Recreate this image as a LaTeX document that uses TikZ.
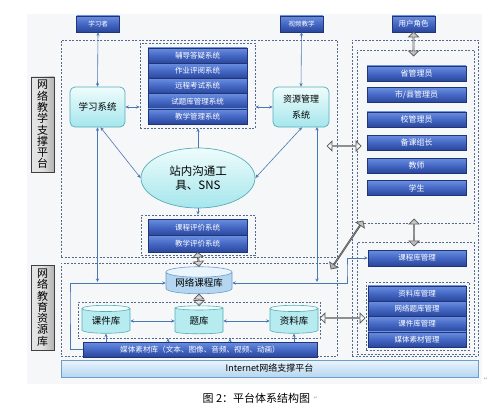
\documentclass[tikz,border=0pt]{standalone}
\usepackage{fontspec}
\newfontfamily\cjk{Noto Sans CJK SC}
\newfontfamily\djv{DejaVu Sans}
\usetikzlibrary{shapes.geometric,shapes.arrows,arrows.meta,calc,fit}
\definecolor{bgc}{HTML}{F6F7F9}
\definecolor{blueT}{HTML}{6A8FE0}
\definecolor{blueM}{HTML}{4467C4}
\definecolor{blueB}{HTML}{2A469A}
\definecolor{blueL}{HTML}{1F3578}
\definecolor{cyanT}{HTML}{EFFCFC}
\definecolor{cyanB}{HTML}{A4E6EC}
\definecolor{cyanL}{HTML}{55AEB8}
\definecolor{lbT}{HTML}{EAF4FC}
\definecolor{lbB}{HTML}{B5D6F0}
\definecolor{lbL}{HTML}{6F9CC8}
\definecolor{dashc}{HTML}{55698A}
\definecolor{arrc}{HTML}{4A78B2}
\newcommand\fatarr[3]{\path let \p1=($(#2)-(#1)$), \n1={atan2(\y1,\x1)}, \n2={veclen(\x1,\y1)} in node[fatarrow, minimum height=\n2, rotate=\n1] (#3) at ($(#1)!0.5!(#2)$) {};}
\begin{document}
\begin{tikzpicture}[x=1pt,y=-1pt,font=\cjk,
  bluebox/.style={draw=blueL, line width=0.5pt, top color=blueT, bottom color=blueB, middle color=blueM, text=white, inner sep=0pt, font=\cjk\fontsize{7.5}{8}\selectfont},
  tagbox/.style={bluebox, minimum width=43pt, minimum height=16pt, font=\cjk\fontsize{6.5}{7}\selectfont},
  sysbox/.style={bluebox, minimum width=99pt, minimum height=15.2pt},
  rolebox/.style={bluebox, minimum width=99pt, minimum height=15pt, font=\cjk\fontsize{8}{9}\selectfont},
  cyanbox/.style={draw=cyanL, line width=0.7pt, rounded corners=5pt, top color=cyanT, bottom color=cyanB, inner sep=0pt, align=center},
  dashbox/.style={draw=dashc, line width=0.75pt, dash pattern=on 2pt off 1.5pt, inner sep=0pt},
  graylabel/.style={draw=black!75, line width=0.7pt, left color=gray!20, right color=gray!60, middle color=gray!25, inner sep=0pt, minimum width=23pt, align=center, font=\cjk\fontsize{11}{11.3}\selectfont},
  dbase/.style={cylinder, shape border rotate=90, aspect=0.22, draw=cyanL, line width=0.6pt, cylinder uses custom fill, cylinder body fill=cyanB!80, cylinder end fill=cyanT, minimum width=48pt, minimum height=28pt, inner sep=0pt, font=\cjk\fontsize{9.5}{10}\selectfont},
  both/.style={draw=arrc, line width=0.6pt, {Stealth[length=3.5pt,width=3.2pt]}-{Stealth[length=3.5pt,width=3.2pt]}},
  one/.style={draw=arrc, line width=0.6pt, -{Stealth[length=3.5pt,width=3.2pt]}},
  fatarrow/.style={double arrow, draw=black!65, line width=0.7pt, top color=gray!55, bottom color=gray!70, middle color=white, minimum width=10pt, double arrow head extend=2.5pt, inner sep=0pt}]
\useasboundingbox (0,0) rectangle (500,417);
\fill[bgc] (27,14) rectangle (482,384);

% dashed frames
\node[dashbox, fit={(61,40) (337,257)}] (topdash) {};
\node[dashbox, fit={(140,43) (255,128)}] (sysdash) {};
\node[dashbox, fit={(141,215) (255,255)}] (evaldash) {};
\node[dashbox, fit={(61,263) (337,356)}] (botdash) {};
\node[dashbox, fit={(78,302) (320,338)}] (libdash) {};
\node[dashbox, fit={(352,40) (478,356)}] (rightdash) {};
\node[dashbox, fit={(357,50) (474,223)}] (roledash) {};
\node[dashbox, fit={(357,242) (474,354)}] (mgdash) {};
\node[dashbox, fit={(366,282) (469,350)}] (mg4dash) {};

% tags
\node[tagbox] (xxz) at (98,24) {学习者};
\node[tagbox] (spjx) at (301.5,24) {视频教学};
\node[tagbox, font=\cjk\fontsize{7.5}{8}\selectfont] (yhjs) at (413.5,24) {用户角色};

% side labels
\node[graylabel, minimum height=95pt] (lab1) at (42.5,124.5) {网\\络\\教\\学\\支\\撑\\平\\台};
\node[graylabel, minimum height=85pt] (lab2) at (42.5,307.5) {网\\络\\教\\育\\资\\源\\库};

% system list
\node[sysbox] (s1) at (197.5,55.6) {辅导答疑系统};
\node[sysbox] (s2) at (197.5,70.8) {作业评阅系统};
\node[sysbox] (s3) at (197.5,86.0) {远程考试系统};
\node[sysbox] (s4) at (197.5,101.2) {试题库管理系统};
\node[sysbox] (s5) at (197.5,116.4) {教学管理系统};

% cyan boxes
\node[cyanbox, minimum width=55pt, minimum height=40pt, font=\cjk\fontsize{9.5}{10}\selectfont] (xxxt) at (97.5,107) {学习系统};
\node[cyanbox, minimum width=56pt, minimum height=40pt, font=\cjk\fontsize{9}{15.5}\selectfont] (zygl) at (301,107) {资源管理\\系统};
\node[ellipse, draw=cyanL, line width=0.7pt, top color=cyanT, bottom color=cyanB, minimum width=114pt, minimum height=60pt, inner sep=0pt, align=center, font=\cjk\fontsize{11.5}{13.5}\selectfont] (ell) at (198,178) {站内沟通工\\具、SNS};

% evaluation
\node[sysbox, minimum height=16.5pt] (e1) at (197.5,227.25) {课程评价系统};
\node[sysbox, minimum height=16.5pt] (e2) at (197.5,243.75) {教学评价系统};

% resource libraries
\node[dbase, draw=lbL, cylinder body fill=lbB, cylinder end fill=lbT, minimum width=66pt, minimum height=27pt] (kcl) at (199,283) {网络课程库};
\node[dbase] (kjk) at (106,321) {课件库};
\node[dbase] (tk) at (199,321) {题库};
\node[dbase] (zlk) at (294,321) {资料库};
\node[bluebox, minimum width=234pt, minimum height=15pt, font=\cjk\fontsize{7.6}{8}\selectfont] (media) at (200,349.5) {媒体素材库（文本、图像、音频、视频、动画）};
\node[draw=lbL, line width=0.7pt, top color=lbT, bottom color=lbB, minimum width=417pt, minimum height=17pt, inner sep=0pt, font=\cjk\fontsize{9}{10}\selectfont] (inet) at (269.5,368.5) {Internet网络支撑平台};

% roles
\node[rolebox] (r1) at (416.5,73.5) {省管理员};
\node[rolebox] (r2) at (416.5,95) {市/县管理员};
\node[rolebox] (r3) at (416.5,119.5) {校管理员};
\node[rolebox] (r4) at (416.5,142.5) {备课组长};
\node[rolebox] (r5) at (416.5,165.5) {教师};
\node[rolebox] (r6) at (416.5,188) {学生};

% management
\node[sysbox, minimum width=98pt, minimum height=16pt] (m0) at (417,258) {课程库管理};
\node[sysbox, minimum width=98pt, minimum height=15.25pt] (m1) at (417,293.6) {资料库管理};
\node[sysbox, minimum width=98pt, minimum height=15.25pt] (m2) at (417,308.9) {网络题库管理};
\node[sysbox, minimum width=98pt, minimum height=15.25pt] (m3) at (417,324.1) {课件库管理};
\node[sysbox, minimum width=98pt, minimum height=15.25pt] (m4) at (417,339.4) {媒体素材管理};

% caption
\node[font=\cjk\fontsize{11}{12}\selectfont, anchor=west] (cap) at (199,398) {图 2：平台体系结构图};
\node[font=\djv\fontsize{5}{6}\selectfont, text=gray!70, anchor=west, inner sep=0pt] (pm1) at (cap.east) {↵};
\node[font=\djv\fontsize{5}{6}\selectfont, text=gray!70, inner sep=0pt] (pm2) at (486,379) {↵};

% helper coordinates
\coordinate (xv) at (97.5,282);
\coordinate (zv0) at (317,127);
\coordinate (zv) at (317,282);
\coordinate (lc) at (70,300);
\coordinate (rc) at (347,270);
\coordinate (xd) at ($(xxxt.south)+(3,0)$);
\coordinate (mk1) at (168,342);
\coordinate (mk2) at (230,342);
\coordinate (a1s) at (413.5,32);
\coordinate (a1e) at (413.5,56);
\coordinate (a2s) at (327,146);
\coordinate (a2e) at (361,146);
\coordinate (a5s) at (331,269);
\coordinate (a5e) at (363,221);
\coordinate (a6s) at (414,219);
\coordinate (a6e) at (414,246);
\coordinate (a7s) at (320,318);
\coordinate (a7e) at (365,318);

% thin connectors
\draw[both] (xxz.south) -- (xxxt.north);
\draw[both] (spjx.south) -- (zygl.north);
\draw[both] (xxxt.east) -- (sysdash.west |- xxxt.east);
\draw[both] (zygl.west) -- (sysdash.east |- zygl.west);
\draw[one] (ell.north) -- (sysdash.south -| ell.north);
\draw[both] (xd) -- (ell.west);
\draw[both] ($(zygl.south)+(1,0)$) -- (ell.east);
\draw[one] (ell.south) -- (evaldash.north -| ell.south);
\draw[both] (xxxt.south) -- (xv);
\draw[both] (zv0) -- (zv);
\draw[one] (media.west) -| (lc) |- (kcl.west);
\draw[both] (kcl.east) -| (rc) |- (m0.west);
\draw[both] (kjk.east) -- (tk.west);
\draw[both] (tk.east) -- (zlk.west);
\draw[one] (media.north -| kjk.south) -- (kjk.south);
\draw[one] (mk1) -- (libdash.south -| mk1);
\draw[one] (mk2) -- (libdash.south -| mk2);
\draw[one] (media.north -| zlk.south) -- (zlk.south);

% thick double arrows
\fatarr{a1s}{a1e}{f1}
\fatarr{a2s}{a2e}{f2}
\fatarr{e2.south}{kcl.north}{f3}
\fatarr{kcl.south}{tk.north}{f4}
\fatarr{a5s}{a5e}{f5}
\fatarr{a6s}{a6e}{f6}
\fatarr{a7s}{a7e}{f7}
\end{tikzpicture}
\end{document}
